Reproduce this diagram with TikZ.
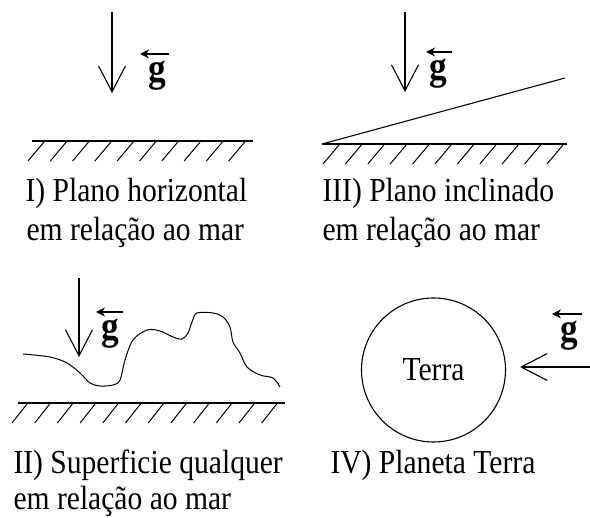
\documentclass[tikz,border=0pt]{standalone}
\usepackage{fontspec}
\setmainfont{Liberation Serif}[FakeStretch=0.88]
\usetikzlibrary{arrows.meta, positioning}

\begin{document}
\begin{tikzpicture}[
    x=1pt, y=-1pt,
    >={Straight Barb[length=26pt,width=27pt]},
    line width=1.1pt,
    caption/.style={anchor=base west, inner sep=0pt, font=\fontsize{33.6}{40}\selectfont},
    gvec/.style={anchor=base, inner sep=0pt, font=\fontsize{40}{40}\selectfont\bfseries},
    garrow/.style={-{Stealth[length=9pt,width=9pt]}, line width=1.6pt},
    ground/.style={line width=1.6pt},
    hatch/.style={line width=1pt},
    planet/.style={draw, circle, minimum size=144pt, inner sep=0pt, font=\fontsize{33.6}{40}\selectfont}
]
\useasboundingbox (0,0) rectangle (590,518);

% I) plano horizontal
\coordinate (topI) at (112,12);
\coordinate (tipI) at (112,93);
\draw[->] (topI) -- (tipI);
\node[gvec] (gI) at (157,82) {g};
\draw[garrow] ([shift={(12pt,7pt)}]gI.north) -- ([shift={(-17pt,7pt)}]gI.north);
\coordinate (floorIa) at (32,141);
\coordinate (floorIb) at (253,141);
\draw[ground] (floorIa) -- (floorIb);
\foreach \x in {0,...,9}
    \draw[hatch] (44+22.3*\x,142) -- ++(-16,19);
\node[caption] (capIa) at (25,202) {I) Plano horizontal};
\node[caption] (capIb) at (26,241) {em relação ao mar};

% III) plano inclinado
\coordinate (topIII) at (405,12);
\coordinate (tipIII) at (405,92);
\draw[->] (topIII) -- (tipIII);
\node[gvec] (gIII) at (438,80) {g};
\draw[garrow] ([shift={(14pt,7pt)}]gIII.north) -- ([shift={(-12pt,7pt)}]gIII.north);
\coordinate (floorIIIa) at (322,144);
\coordinate (floorIIIb) at (567,144);
\coordinate (slopeIII) at (565,78);
\draw[ground] (floorIIIa) -- (floorIIIb);
\draw (floorIIIa) -- (slopeIII);
\foreach \x in {0,...,10}
    \draw[hatch] (339+22.4*\x,145) -- ++(-16,19);
\node[caption] (capIIIa) at (322,202) {III) Plano inclinado};
\node[caption] (capIIIb) at (322,241) {em relação ao mar};

% II) superficie qualquer
\coordinate (topII) at (79,278);
\coordinate (tipII) at (79,357);
\draw[->] (topII) -- (tipII);
\node[gvec] (gII) at (110,340) {g};
\draw[garrow] ([shift={(13pt,7pt)}]gII.north) -- ([shift={(-14pt,7pt)}]gII.north);
\draw[line width=1pt] plot[smooth, tension=0.55] coordinates {
    (23,354) (50,357) (67,363) (80,373) (90,383) (100,386) (113,385)
    (120,380) (125,360) (133,340) (147,330) (160,331) (173,337) (182,339)
    (188,333) (192,322) (197,313) (213,313) (223,317) (230,327) (233,342)
    (240,353) (247,367) (260,375) (273,378) (280,387)};
\coordinate (floorIIa) at (18,403);
\coordinate (floorIIb) at (285,403);
\draw[ground] (floorIIa) -- (floorIIb);
\foreach \x in {0,...,11}
    \draw[hatch] (27+22.7*\x,404) -- ++(-15,19);
\node[caption] (capIIa) at (13,474) {II) Superficie qualquer};
\node[caption] (capIIb) at (13,510) {em relação ao mar};

% IV) planeta Terra
\node[planet] (terra) at (433.5,370) {Terra};
\coordinate (startIV) at (590,367);
\draw[->] (startIV) -- ([xshift=14pt]terra.east |- startIV);
\node[gvec] (gIV) at (569,342) {g};
\draw[garrow] ([shift={(13pt,7pt)}]gIV.north) -- ([shift={(-17pt,7pt)}]gIV.north);
\node[caption] (capIV) at (330,474) {IV) Planeta Terra};

\end{tikzpicture}
\end{document}
